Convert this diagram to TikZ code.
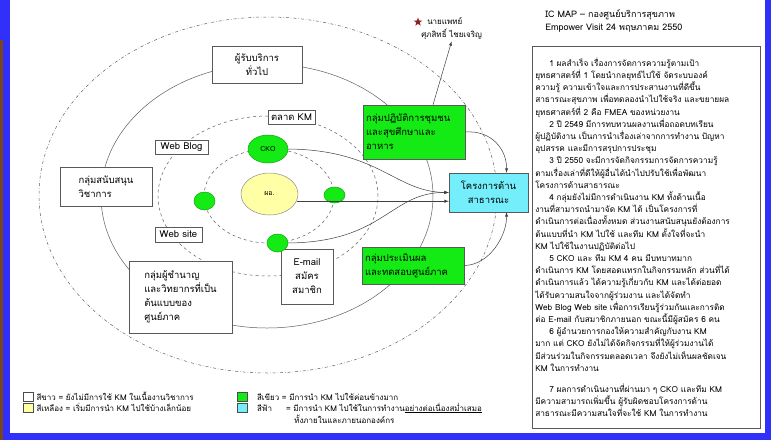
\documentclass[tikz,border=0pt]{standalone}
\usepackage{fontspec}
\setmainfont{Loma}[Script=Thai]
\usetikzlibrary{shapes.geometric,positioning}
\definecolor{frameblue}{RGB}{48,48,250}
\definecolor{slidebrown}{RGB}{120,70,30}
\definecolor{kmgreen}{RGB}{20,235,20}
\definecolor{kmcyan}{RGB}{115,238,250}
\definecolor{kmyellow}{RGB}{255,255,165}
\definecolor{orbitgray}{RGB}{95,95,95}
\definecolor{starred}{RGB}{140,35,35}
\begin{document}
\begin{tikzpicture}[x=1pt, y=-1pt, line width=0.5pt,
  box/.style = {draw=black!65, fill=white, align=center, inner sep=1pt, font=\fontsize{9.5}{14}\selectfont},
  gbox/.style = {box, fill=kmgreen, align=left},
  dot/.style = {ellipse, draw=kmgreen!70!black, fill=kmgreen, inner sep=0, font=\fontsize{7}{8}\selectfont},
  orbit/.style = {draw=orbitgray},
  arr/.style = {draw=black!75, -latex},
  key/.style = {draw=black!70, minimum width=10pt, minimum height=9pt, inner sep=0},
  ltext/.style = {font=\fontsize{8}{11}\selectfont, inner sep=1pt, anchor=west}]
\fill[frameblue] (0,0) rectangle (771,440);
\fill[slidebrown] (0,40) rectangle (2.5,440);
\fill[white] (10,0) rectangle (765,433);
\useasboundingbox (0,0) rectangle (771,440);

\draw[orbit, dash dot] (268,195) ellipse [x radius=229pt, y radius=178pt];
\draw[orbit] (267,196) ellipse [x radius=166pt, y radius=132pt];
\draw[orbit, dashed] (268,196) ellipse [x radius=110pt, y radius=80pt];
\draw[orbit, dashed] (269,196) ellipse [x radius=65pt, y radius=47pt];

\node[box, minimum width=90pt, minimum height=37pt] (pub) at (257,64.5) {ผู้รับบริการ\\ทั่วไป};
\node[box, minimum width=92pt, minimum height=39pt, align=left] (sup) at (106,186.5) {กลุ่มสนับสนุน\\วิชาการ};
\node[box, minimum width=103pt, minimum height=72pt, align=left] (exp) at (180.5,297) {กลุ่มผู้ชำนาญ\\และวิทยากรที่เป็น\\ต้นแบบของ\\ศูนย์ภาค};
\node[box, minimum width=53pt, minimum height=14pt] (blog) at (181.5,147) {Web Blog};
\node[box, minimum width=47pt, minimum height=15pt] (site) at (178.5,234.5) {Web site};
\node[box, minimum width=47pt, minimum height=14pt] (mkt) at (291.5,117) {ตลาด KM};
\node[box, minimum width=52pt, minimum height=55pt] (mail) at (307,276.5) {E-mail\\สมัคร\\สมาชิก};

\node[dot, minimum width=40pt, minimum height=28pt] (cko) at (268,149) {CKO};
\node[dot, draw=black!45, fill=kmyellow, minimum width=57pt, minimum height=42pt] (dir) at (269.5,194) {ผอ.};
\node[dot, minimum width=21pt, minimum height=18pt] (s1) at (204.5,201) {};
\node[dot, minimum width=21pt, minimum height=16pt] (s2) at (334.5,195) {};
\node[dot, minimum width=21pt, minimum height=18pt] (s3) at (277.5,243) {};

\node[gbox, minimum width=102pt, minimum height=54pt, text width=96pt] (g1) at (414,132) {กลุ่มปฏิบัติการชุมชน\\และสุขศึกษาและ\\อาหาร};
\node[gbox, minimum width=102pt, minimum height=37pt, text width=96pt] (g2) at (413,265.5) {กลุ่มประเมินผล\\และทดสอบศูนย์ภาค};
\node[box, fill=kmcyan, minimum width=79pt, minimum height=39pt] (prj) at (488.5,192.5) {โครงการด้าน\\สาธารณะ};

\node[font=\fontsize{8}{13}\selectfont, align=left, inner sep=1pt, anchor=west] (doc) at (420,29) {\hspace*{6pt}นายแพทย์\\ศุภสิทธิ์ ไชยเจริญ};
\node[star, star points=5, star point ratio=2.4, fill=starred, inner sep=0, minimum size=9pt] (st) at (418,22) {};
\node[font=\fontsize{9}{13}\selectfont, align=left, anchor=west, inner sep=0] (ttl) at (545,21) {IC MAP -- กองศูนย์บริการสุขภาพ\\Empower Visit 24 พฤษภาคม 2550};

\node[box, anchor=north west, minimum width=228pt, minimum height=382pt, text width=222pt, align=left, font=\fontsize{8.3}{12.2}\selectfont] (note) at (532,46) {%
\hspace*{14pt}1 ผลสำเร็จ เรื่องการจัดการความรู้ตามเป้า\\
ยุทธศาสตร์ที่ 1 โดยนำกลยุทธ์ไปใช้ จัดระบบองค์\\
ความรู้ ความเข้าใจและการประสานงานที่ดีขึ้น\\
สาธารณะสุขภาพ เพื่อทดลองนำไปใช้จริง และขยายผล\\
ยุทธศาสตร์ที่ 2 คือ FMEA ของหน่วยงาน\\
\hspace*{14pt}2 ปี 2549 มีการทบทวนผลงานเพื่อถอดบทเรียน\\
ผู้ปฏิบัติงาน เป็นการนำเรื่องเล่าจากการทำงาน ปัญหา\\
อุปสรรค และมีการสรุปการประชุม\\
\hspace*{14pt}3 ปี 2550 จะมีการจัดกิจกรรมการจัดการความรู้\\
ตามเรื่องเล่าที่ดีให้ผู้อื่นได้นำไปปรับใช้เพื่อพัฒนา\\
โครงการด้านสาธารณะ\\
\hspace*{14pt}4 กลุ่มยังไม่มีการดำเนินงาน KM ทั้งด้านเนื้อ\\
งานที่สามารถนำมาจัด KM ได้ เป็นโครงการที่\\
ดำเนินการต่อเนื่องทั้งหมด ส่วนงานสนับสนุนยังต้องการ\\
ต้นแบบที่นำ KM ไปใช้ และทีม KM ตั้งใจที่จะนำ\\
KM ไปใช้ในงานปฏิบัติต่อไป\\
\hspace*{14pt}5 CKO และ ทีม KM 4 คน มีบทบาทมาก\\
ดำเนินการ KM โดยสอดแทรกในกิจกรรมหลัก ส่วนที่ได้\\
ดำเนินการแล้ว ได้ความรู้เกี่ยวกับ KM และได้ต่อยอด\\
ได้รับความสนใจจากผู้ร่วมงาน และได้จัดทำ\\
Web Blog Web site เพื่อการเรียนรู้ร่วมกันและการติด\\
ต่อ E-mail กับสมาชิกภายนอก ขณะนี้มีผู้สมัคร 6 คน\\
\hspace*{14pt}6 ผู้อำนวยการกองให้ความสำคัญกับงาน KM\\
มาก แต่ CKO ยังไม่ได้จัดกิจกรรมที่ให้ผู้ร่วมงานได้\\
มีส่วนร่วมในกิจกรรมตลอดเวลา จึงยังไม่เห็นผลชัดเจน\\
KM ในการทำงาน\\[9pt]
\hspace*{14pt}7 ผลการดำเนินงานที่ผ่านมา ๆ CKO และทีม KM\\
มีความสามารถเพิ่มขึ้น ผู้รับผิดชอบโครงการด้าน\\
สาธารณะมีความสนใจที่จะใช้ KM ในการทำงาน};

\draw[arr] (cko.east) .. controls (380,150) and (395,192) .. (prj.west);
\draw[arr] (s3.east) .. controls (385,242) and (390,192) .. (prj.west);
\draw[arr] (dir.-15) -- (dir.-15 -| prj.west);
\draw[arr] (g1.east) .. controls (492,130) and (507,150) .. ([xshift=18pt]prj.north);
\draw[arr] (g2.east) .. controls (490,265) and (507,235) .. ([xshift=18pt]prj.south);
\draw[arr] ([xshift=19pt]g1.north) -- (doc.south);

\node[key] (k1) at (28,396.5) {};
\node[key, fill=kmyellow] (k2) at (28,407.5) {};
\node[key, fill=kmgreen] (k3) at (242.5,397) {};
\node[key, fill=kmcyan] (k4) at (242.5,408) {};
\node[ltext, right=2pt of k1] (t1) {สีขาว = ยังไม่มีการใช้ KM ในเนื้องานวิชาการ};
\node[ltext, right=2pt of k2] (t2) {สีเหลือง = เริ่มมีการนำ KM ไปใช้บ้างเล็กน้อย};
\node[ltext, right=8pt of k3] (t3) {สีเขียว = มีการนำ KM ไปใช้ค่อนข้างมาก};
\node[ltext, right=8pt of k4] (t4) {สีฟ้า\hspace{14pt}= มีการนำ KM ไปใช้ในการทำงาน\underline{อย่างต่อเนื่องสม่ำเสมอ}};
\node[ltext] (t5) at (293,419.5) {ทั้งภายในและภายนอกองค์กร};
\end{tikzpicture}
\end{document}
